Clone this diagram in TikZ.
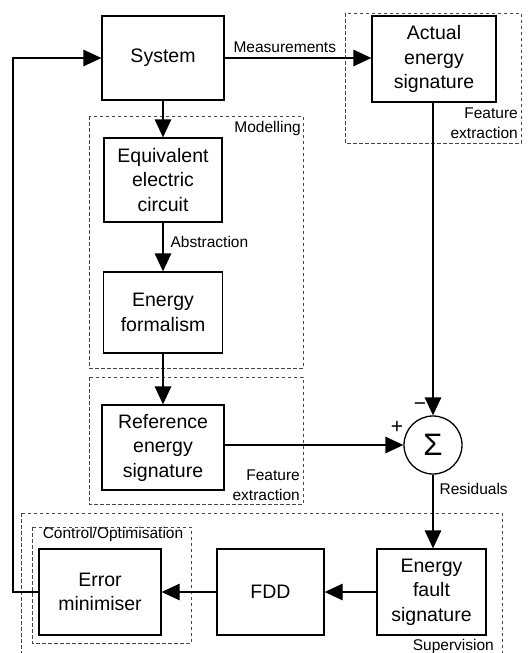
\documentclass[tikz,border=0pt]{standalone}
\usepackage{fontspec}
\setmainfont{Liberation Sans}
\usetikzlibrary{arrows.meta}
\begin{document}
\begin{tikzpicture}[x=1pt,y=-1pt,
  blk/.style={draw, line width=1.3pt, align=center, inner sep=0pt,
    font=\fontsize{19.5}{24.5}\selectfont},
  lbl/.style={inner sep=0pt, font=\fontsize{15.5}{19.5}\selectfont},
  sgn/.style={inner sep=0pt, font=\fontsize{21}{21}\selectfont},
  grp/.style={draw=black!72, line width=0.9pt, dash pattern=on 3.5pt off 2.5pt},
  flow/.style={line width=1.3pt, -{Triangle[length=18pt,width=16.5pt]}}]
\useasboundingbox (0,0) rectangle (530,653);

% grouping frames
\draw[grp] (345,13) rectangle (521,143);
\draw[grp] (89,116) rectangle (303,368);
\draw[grp] (89,377) rectangle (303,504);
\begin{scope}
  \clip (0,0) rectangle (530,653);
  \draw[grp] (21,513) rectangle (502,670);
\end{scope}
\draw[grp] (32,527) rectangle (191,643);

% blocks
\node[blk, minimum width=122pt, minimum height=84pt] (sys) at (163,58) {System};
\node[blk, minimum width=124pt, minimum height=86pt] (act) at (434,59) {Actual\\energy\\signature};
\node[blk, minimum width=118pt, minimum height=84pt] (eec) at (163,180) {Equivalent\\electric\\circuit};
\node[blk, minimum width=119pt, minimum height=81pt] (efo) at (163,312.5) {Energy\\formalism};
\node[blk, minimum width=122pt, minimum height=85pt] (ref) at (163,447.5) {Reference\\energy\\signature};
\node[draw, circle, line width=1.3pt, minimum size=58pt, inner sep=0pt,
  font=\fontsize{31}{31}\selectfont] (sum) at (433,445) {Σ};
\node[blk, minimum width=122pt, minimum height=86pt] (err) at (100,592) {Error\\minimiser};
\node[blk, minimum width=107pt, minimum height=86pt] (fdd) at (270.5,592) {FDD};
\node[blk, minimum width=109pt, minimum height=86pt] (efs) at (431.5,592) {Energy\\fault\\signature};

% frame captions
\node[lbl, anchor=east] (capmod) at (301,128) {Modelling};
\node[lbl, anchor=east, align=right] (capfe1) at (518,123) {Feature\\extraction};
\node[lbl, anchor=east, align=right] (capfe2) at (300,485) {Feature\\extraction};
\node[lbl] (capctl) at (113,534) {Control/Optimisation};
\node[lbl, anchor=east] (capsup) at (494,646) {Supervision};

% connectors
\coordinate (fbl) at (13,592);
\coordinate (fbu) at (13,58);
\draw[flow] (err.west) -- (fbl) -- (fbu) -- (sys.west);
\draw[flow] (sys.east) -- node[lbl, above=5pt, pos=0.41] (lmeas) {Measurements} (sys.east -| act.west);
\draw[flow] (sys.south) -- (eec.north);
\draw[flow] (eec.south) -- node[lbl, right=7pt, pos=0.4] (labs) {Abstraction} (efo.north);
\draw[flow] (efo.south) -- (ref.north);
\draw[flow] (ref.east |- sum.west) -- (sum.west);
\draw[flow] (act.south -| sum.north) -- (sum.north);
\draw[flow] (sum.south) -- node[lbl, right=6pt, pos=0.2] (lres) {Residuals} (sum.south |- efs.north);
\draw[flow] (efs.west) -- (fdd.east);
\draw[flow] (fdd.west) -- (err.east);

% signs at the summing junction
\node[sgn] (minus) at (420,407) {−};
\node[sgn] (plus) at (397,427) {+};
\end{tikzpicture}
\end{document}
